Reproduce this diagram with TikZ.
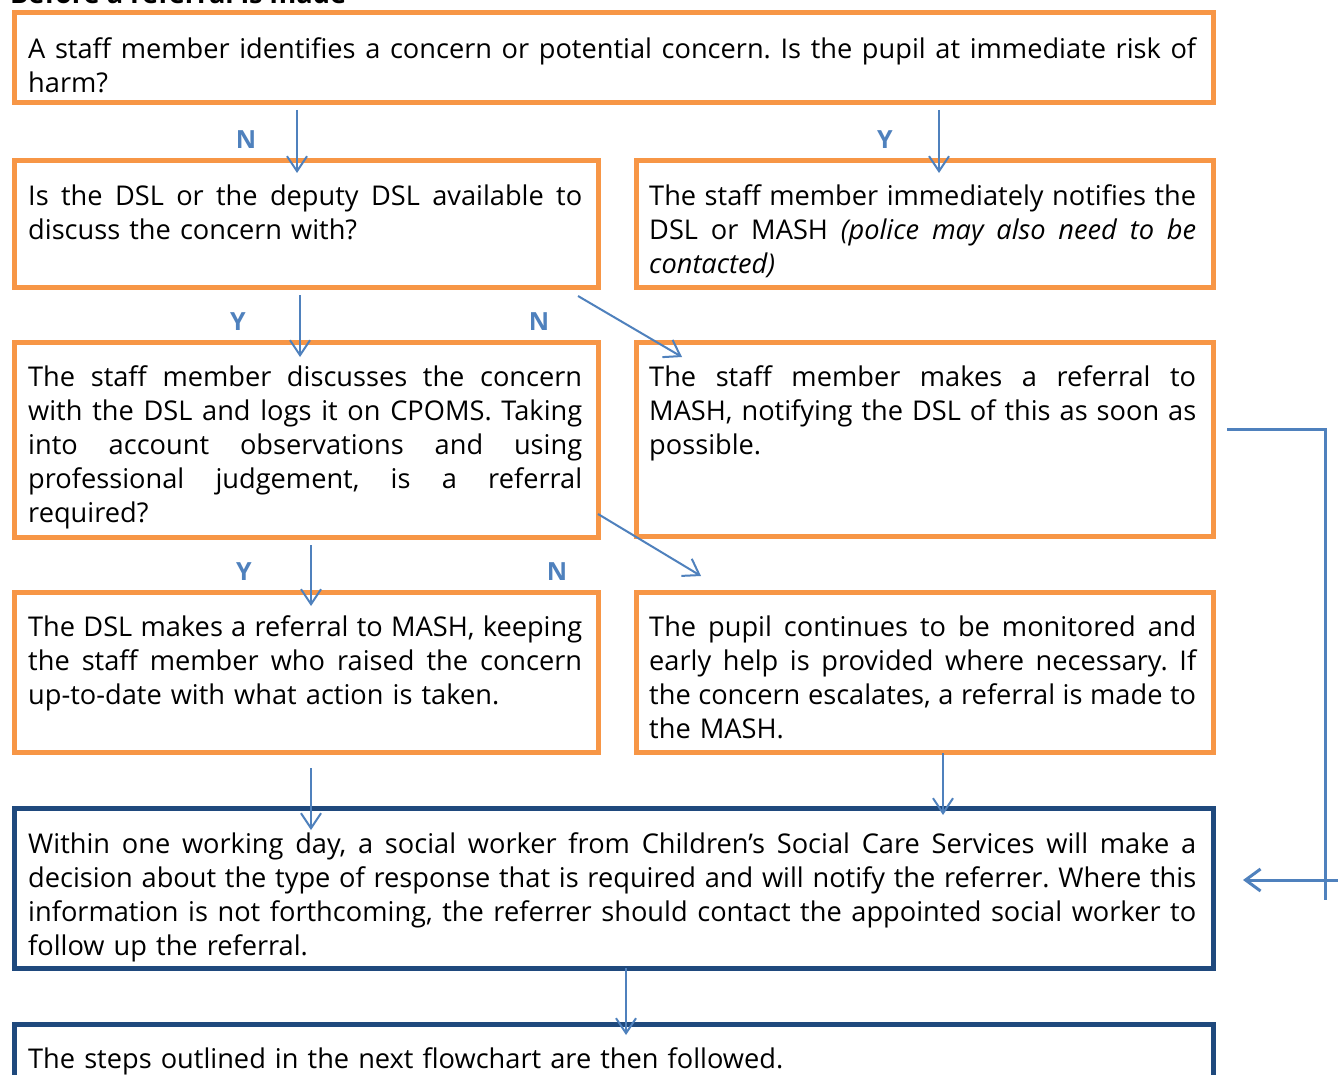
\documentclass[tikz,border=0pt]{standalone}
\usepackage{fontspec}
\setmainfont{Open Sans}
\usetikzlibrary{arrows.meta,calc}
\definecolor{orng}{HTML}{F79646}
\definecolor{dblue}{HTML}{1F497D}
\definecolor{lblue}{HTML}{4F81BD}
\newcommand{\jline}[2]{\leavevmode\hbox to #1{\spaceskip=\fontdimen2\font plus 1fil minus \fontdimen4\font
  \xspaceskip=\spaceskip #2}}
\newcommand{\jlL}[1]{\jline{554pt}{#1}}
\newcommand{\jlR}[1]{\jline{547pt}{#1}}
\newcommand{\jlF}[1]{\jline{1168pt}{#1}}
\frenchspacing
\begin{document}
\begin{tikzpicture}[x=1pt,y=-1pt,
  obox/.style={draw=orng, line width=5pt, rectangle, inner sep=0pt, anchor=north west},
  bbox/.style={draw=dblue, line width=5pt, rectangle, inner sep=0pt, anchor=north west},
  txt/.style={anchor=north west, inner sep=0pt, text width=#1, align=left,
    font=\fontsize{27.2pt}{34pt}\selectfont\frenchspacing},
  yn/.style={text=lblue, font=\fontsize{25pt}{28pt}\selectfont\bfseries, inner sep=0pt},
  arr/.style={draw=lblue, line width=2pt, -{Straight Barb[length=15pt,width=20pt,line width=2pt]}},
  ln/.style={draw=lblue, line width=3pt},
  arrw/.style={draw=lblue, line width=3pt, -{Straight Barb[length=15pt,width=22pt,line width=3pt]}}
]
\useasboundingbox (0,0) rectangle (1338,1075);
\clip (0,0) rectangle (1338,1075);
\fill[white] (0,0) rectangle (1338,1075);

% title (cut off at top)
\node[anchor=base west, inner sep=0pt, font=\fontsize{27.2pt}{30pt}\selectfont\bfseries] (title) at (10,4) {Before a referral is made};

% boxes
\node[obox, minimum width=1199pt, minimum height=90pt] (b1) at (12,10) {};
\node[obox, minimum width=584pt, minimum height=127pt] (b2) at (12,158) {};
\node[obox, minimum width=577pt, minimum height=127pt] (b3) at (634,158) {};
\node[obox, minimum width=584pt, minimum height=195pt] (b4) at (12,340) {};
\node[obox, minimum width=577pt, minimum height=194pt] (b5) at (634,340) {};
\node[obox, minimum width=584pt, minimum height=160pt] (b6) at (12,590) {};
\node[obox, minimum width=577pt, minimum height=160pt] (b7) at (634,590) {};
\node[bbox, minimum width=1199pt, minimum height=160pt] (b8) at (12,806) {};
\node[bbox, minimum width=1199pt, minimum height=120pt] (b9) at (12,1022) {};

% texts
\node[txt=1168pt] (t1) at (28,34.2) {\strut\jlF{A staff member identifies a concern or potential concern. Is the pupil at immediate risk of}\\harm?};
\node[txt=554pt] (t2) at (28,181.2) {\strut\jlL{Is the DSL or the deputy DSL available to}\\discuss the concern with?};
\node[txt=547pt] (t3) at (649,181.2) {\strut\jlR{The staff member immediately notifies the}\\\jlR{DSL or MASH \textit{(police may also need to be}}\\\textit{contacted)}};
\node[txt=554pt] (t4) at (28,362.2) {\strut\jlL{The staff member discusses the concern}\\\jlL{with the DSL and logs it on CPOMS. Taking}\\\jlL{into account observations and using}\\\jlL{professional judgement, is a referral}\\required?};
\node[txt=547pt] (t5) at (649,362.2) {\strut\jlR{The staff member makes a referral to}\\\jlR{MASH, notifying the DSL of this as soon as}\\possible.};
\node[txt=554pt] (t6) at (28,612.2) {\strut\jlL{The DSL makes a referral to MASH, keeping}\\\jlL{the staff member who raised the concern}\\up-to-date with what action is taken.};
\node[txt=547pt] (t7) at (649,612.2) {\strut\jlR{The pupil continues to be monitored and}\\\jlR{early help is provided where necessary. If}\\\jlR{the concern escalates, a referral is made to}\\the MASH.};
\node[txt=1168pt] (t8) at (28,829.2) {\strut\jlF{Within one working day, a social worker from Children’s Social Care Services will make a}\\\jlF{decision about the type of response that is required and will notify the referrer. Where this}\\\jlF{information is not forthcoming, the referrer should contact the appointed social worker to}\\follow up the referral.};
\node[txt=1168pt] (t9) at (28,1044.2) {\strut The steps outlined in the next flowchart are then followed.};

% Y / N labels
\node[yn] (n1) at (246,140) {N};
\node[yn] (y1) at (885,140) {Y};
\node[yn] (y2) at (238,322) {Y};
\node[yn] (n2) at (539,322) {N};
\node[yn] (y3) at (244,572) {Y};
\node[yn] (n3) at (557,572) {N};

% arrows
\draw[arr] ([xshift=285pt,yshift=-5pt]b1.south west) -- ([xshift=285pt,yshift=-15pt]b2.north west);
\draw[arr] ([xshift=305pt,yshift=-5pt]b3.north west |- b1.south) -- ([xshift=305pt,yshift=-15pt]b3.north west);
\draw[arr] ([xshift=288pt,yshift=-5pt]b2.south west) -- ([xshift=288pt,yshift=-17pt]b4.north west);
\draw[arr] ([xshift=-23pt,yshift=-6pt]b2.south east) -- ([xshift=48pt,yshift=-17pt]b5.north west);
\draw[arr] ([xshift=299pt,yshift=-5pt]b4.south west) -- ([xshift=299pt,yshift=-16pt]b6.north west);
\draw[arr] ([xshift=-3pt,yshift=26pt]b4.south east) -- ([xshift=67pt,yshift=14pt]b7.north west);
\draw[arr] ([xshift=299pt,yshift=-13pt]b6.south west) -- ([xshift=299pt,yshift=-24pt]b8.north west);
\draw[arr] ([xshift=309pt,yshift=2pt]b7.south west) -- ([xshift=931pt,yshift=-9pt]b8.north west);
\draw[arr] ([xshift=614pt,yshift=3pt]b8.south west) -- ([xshift=614pt,yshift=-13pt]b9.north west);

% right-hand connector
\coordinate (r1) at (1227,429);
\coordinate (r2) at (1325,429);
\coordinate (r3) at (1325,900);
\coordinate (r4) at (1340,880);
\coordinate (r5) at (1243,880);
\draw[ln] (r1) -- (r2) -- (r3);
\draw[arrw] (r4) -- (r5);
\end{tikzpicture}
\end{document}
